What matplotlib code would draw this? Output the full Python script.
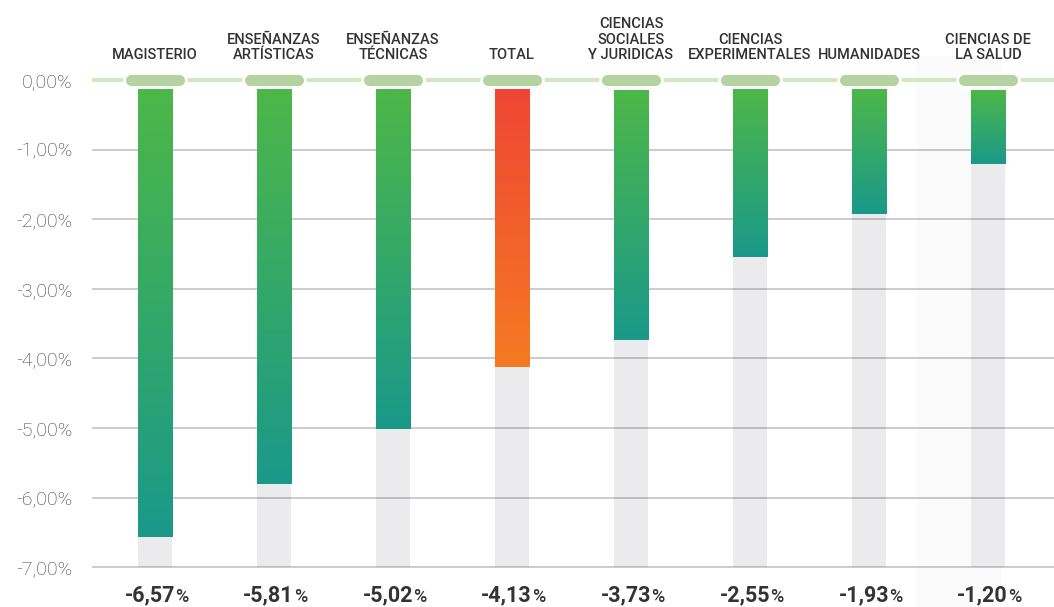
import numpy as np
import matplotlib.pyplot as plt
from matplotlib.colors import LinearSegmentedColormap
from matplotlib.patches import Rectangle
from matplotlib import transforms

# Data
categories = ["MAGISTERIO", "ENSEÑANZAS\nARTÍSTICAS", "ENSEÑANZAS\nTÉCNICAS", "TOTAL",
              "CIENCIAS\nSOCIALES\nY JURIDICAS", "CIENCIAS\nEXPERIMENTALES", "HUMANIDADES",
              "CIENCIAS DE\nLA SALUD"]
values = [-6.57, -5.81, -5.02, -4.13, -3.73, -2.55, -1.93, -1.20]
value_labels = ["-6,57", "-5,81", "-5,02", "-4,13", "-3,73", "-2,55", "-1,93", "-1,20"]
yticks = [0, -1, -2, -3, -4, -5, -6, -7]
ytick_labels = ["0,00%", "-1,00%", "-2,00%", "-3,00%", "-4,00%", "-5,00%", "-6,00%", "-7,00%"]
highlight = "TOTAL"

plt.rcParams['font.family'] = ['Roboto', 'DejaVu Sans']

green_cmap = LinearSegmentedColormap.from_list("g", ["#4db748", "#1a998a"])
orange_cmap = LinearSegmentedColormap.from_list("o", ["#ef4634", "#f57a22"])

fig = plt.figure(figsize=(10.54, 6.07), dpi=100)
ax = fig.add_axes([92 / 1054, 27 / 607, 962 / 1054, 510 / 607])

bar_top = -0.14
width = 0.286
x = np.arange(len(categories))

# faint background column behind the last category
ax.add_patch(Rectangle((6.4, -7.6), 0.72, 7.95, color="#fbfbfb", zorder=0, clip_on=False, lw=0))

# grey background bars
for xi, v in zip(x, values):
    ax.add_patch(Rectangle((xi - width / 2, -7.0), width, v + 7.0, color="#ebebed", lw=0, zorder=1))

# gridlines
for t in yticks[1:]:
    ax.axhline(t, color="black", alpha=0.2, lw=1.4, zorder=2)

# gradient bars
grad = np.linspace(0, 1, 256).reshape(-1, 1)
for xi, v, c in zip(x, values, categories):
    cmap = orange_cmap if c == highlight else green_cmap
    ax.imshow(grad, cmap=cmap, aspect="auto", origin="upper",
              extent=[xi - width / 2, xi + width / 2, v, bar_top], zorder=3)

# zero line with pills
ax.axhline(0, color="#d5e7c0", lw=3, zorder=4, solid_capstyle="butt")
for xi in x:
    ax.plot([xi - 0.2, xi + 0.2], [0, 0], color="white", lw=12, solid_capstyle="round", zorder=5)
    ax.plot([xi - 0.198, xi + 0.198], [0, 0], color="#b5d3a0", lw=8, solid_capstyle="round", zorder=6)

ax.set_xlim(-0.529, 7.555)
ax.set_ylim(-7.184, 0.144)

# y ticks
ax.set_yticks(yticks)
ax.set_yticklabels(ytick_labels, fontsize=14, color="#3c3c3c", fontweight="light")
ax.tick_params(axis="y", length=0, pad=14)
ax.set_xticks([])
for s in ax.spines.values():
    s.set_visible(False)

# category labels
for xi, c in zip(x, categories):
    ax.text(xi, 0.26, c, ha="center", va="bottom", fontsize=10.5, fontweight="medium",
            color="#333333", linespacing=1.12, clip_on=False)

# value labels below
for xi, lab in zip(x, value_labels):
    tr_num = transforms.offset_copy(ax.transData, fig=fig, x=20, y=0, units="dots")
    ax.text(xi, -7.41, lab, ha="right", va="center", fontsize=15.5, fontweight="bold",
            color="#333333", transform=tr_num, clip_on=False)
    ax.text(xi, -7.425, "%", ha="left", va="center", fontsize=13, fontweight="medium",
            color="#333333", transform=tr_num, clip_on=False)

fig.savefig("out.png", dpi=100)
